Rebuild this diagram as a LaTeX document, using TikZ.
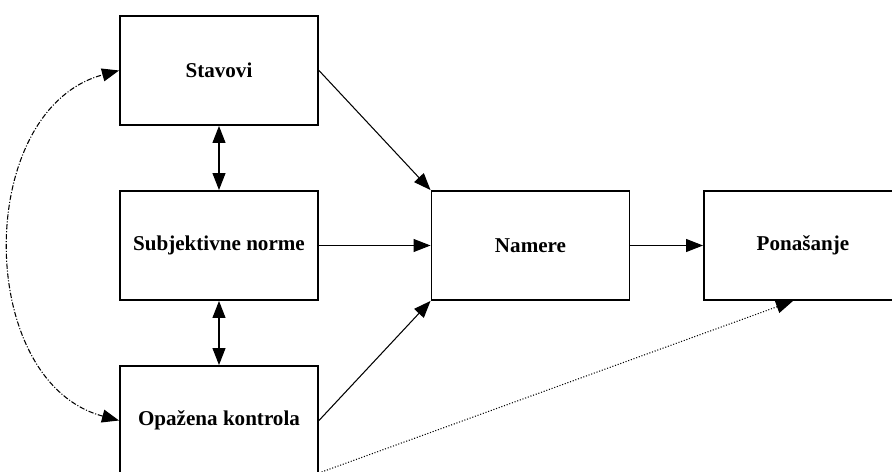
\documentclass[tikz,border=0pt]{standalone}
\usepackage{fontspec}
\setmainfont{Liberation Serif}
\usetikzlibrary{arrows.meta}

\begin{document}
\begin{tikzpicture}[node distance=3.5cm,
  box/.style={draw, line width=1.1pt, minimum width=3.96cm, minimum height=2.18cm, font=\fontsize{12}{14}\selectfont\bfseries},
  >={Triangle[length=0.34cm, width=0.26cm]}]
\useasboundingbox (0,0) rectangle (17.84,9.44);
\node[box] (stavovi) at (4.38,8.03) {Stavovi};
\node[box, below of=stavovi] (norme) {Subjektivne norme};
\node[box, below of=norme] (kontrola) {Opažena kontrola};
\node[box, right of=norme, xshift=2.73cm] (namere) {Namere};
\node[box, right of=namere, xshift=1.95cm] (ponasanje) {Ponašanje};
\draw[<->, line width=0.6pt] (stavovi) -- (norme);
\draw[<->, line width=0.6pt] (norme) -- (kontrola);
\draw[->, line width=0.6pt] (stavovi.east) -- (namere.north west);
\draw[->, line width=0.6pt] (norme) -- (namere);
\draw[->, line width=0.6pt] (kontrola.east) -- (namere.south west);
\draw[->, line width=0.6pt] (namere) -- (ponasanje);
\draw[->, line width=0.6pt, densely dotted] ([yshift=0.06cm] kontrola.south east) -- ([xshift=-0.2cm] ponasanje.south);
\draw[<->, line width=0.6pt, densely dashdotted] (kontrola.west) to[out=165, in=195, looseness=1.1] (stavovi.west);
\end{tikzpicture}
\end{document}
